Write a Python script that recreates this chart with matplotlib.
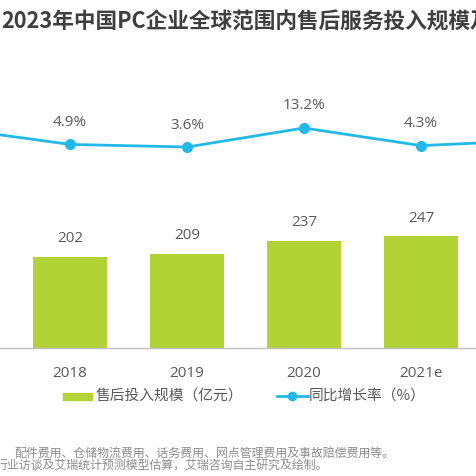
import matplotlib
matplotlib.use("Agg")
import matplotlib.pyplot as plt
from matplotlib.patches import Rectangle
from matplotlib.lines import Line2D

plt.rcParams['font.family'] = ['Open Sans', 'Noto Sans CJK SC', 'DejaVu Sans']

# ---- data ----
years = ["2017", "2018", "2019", "2020", "2021e", "2022e"]
invest = [193, 202, 209, 237, 247, 264]          # 售后投入规模（亿元）
growth = [13.0, 4.9, 3.6, 13.2, 4.3, 7.0]        # 同比增长率（%）
title = "2023年中国PC企业全球范围内售后服务投入规模及增速"
legend_labels = ["售后投入规模（亿元）", "同比增长率（%）"]
note1 = "配件费用、仓储物流费用、话务费用、网点管理费用及事故赔偿费用等。"
note2 = "行业访谈及艾瑞统计预测模型估算，艾瑞咨询自主研究及绘制。"

W, H = 476, 477
fig = plt.figure(figsize=(W / 100, H / 100), dpi=100)
fig.patch.set_facecolor("white")

GREEN = "#b3d236"
BLUE = "#22b9e8"
GRAY_TXT = "#595959"

def fy(py):
    return 1 - py / H

def fx(px):
    return px / W

ax_top, ax_bot = 60, 349
ax = fig.add_axes([0, fy(ax_bot), 1, (ax_bot - ax_top) / H])
x = list(range(len(years)))
sp = 117.0
bars = ax.bar(x, invest, width=0.63, color=GREEN, zorder=2)
for xi, v in zip(x, invest):
    ax.annotate(f"{v}", (xi, v), xytext=(0, 19), textcoords="offset pixels",
                ha="center", va="center", fontsize=11, color=GRAY_TXT)
for s in ["top", "left", "right"]:
    ax.spines[s].set_visible(False)
ax.spines["bottom"].set_color("#bfbfbf")
ax.spines["bottom"].set_linewidth(1)
ax.set_yticks([])
ax.set_xticks(x)
ax.set_xticklabels(years, fontsize=11, color=GRAY_TXT)
ax.tick_params(axis="x", length=0, pad=12)
ax.set_ylim(0, (ax_bot - ax_top) / 0.452)

ax2 = ax.twinx()
ax2.plot(x, growth, color=BLUE, lw=2, marker="o", ms=7, zorder=3)
for xi, v in zip(x, growth):
    ax2.annotate(f"{v:.1f}%", (xi, v), xytext=(0, 23), textcoords="offset pixels",
                 ha="center", va="center", fontsize=11, color=GRAY_TXT)
ax2.set_ylim(3.6 - (ax_bot - 148) / 1.98, 3.6 + (148 - ax_top) / 1.98)
ax2.axis("off")

# pixel mapping: idx1 -> 70px, spacing 117px (set after all plotting)
ax.set_xlim(1 - 70 / sp, 1 + (W - 70) / sp)
ax2.set_xlim(1 - 70 / sp, 1 + (W - 70) / sp)

# title
fig.text(fx(1), fy(22), title, fontsize=15.6, fontweight="bold", color="#3f3f3f",
         ha="left", va="center", family=["Noto Sans CJK SC", "DejaVu Sans"])

# legend (manual)
ly = 397
fig.patches.append(Rectangle((fx(63), fy(ly + 3.5)), fx(92) - fx(63), 7 / H,
                             transform=fig.transFigure, color=GREEN))
fig.text(fx(96), fy(ly), legend_labels[0], fontsize=10.6, color=GRAY_TXT,
         ha="left", va="center", family=["Noto Sans CJK SC", "DejaVu Sans"])
fig.lines.append(Line2D([fx(277), fx(308)], [fy(ly), fy(ly)], transform=fig.transFigure,
                        color=BLUE, lw=2, marker=None))
fig.lines.append(Line2D([fx(292)], [fy(ly)], transform=fig.transFigure,
                        color=BLUE, marker="o", ms=6, lw=0))
fig.text(fx(309), fy(ly), legend_labels[1], fontsize=10.6, color=GRAY_TXT,
         ha="left", va="center", family=["Noto Sans CJK SC", "DejaVu Sans"])

# footnotes
fig.text(fx(14), fy(453.5), note1, fontsize=8.6, color="#8c8c8c", ha="left", va="center",
         family=["Noto Sans CJK SC", "DejaVu Sans"])
fig.text(fx(-4), fy(466), note2, fontsize=8.6, color="#8c8c8c", ha="left", va="center",
         family=["Noto Sans CJK SC", "DejaVu Sans"])

fig.savefig("out.png", dpi=100, facecolor="white")
